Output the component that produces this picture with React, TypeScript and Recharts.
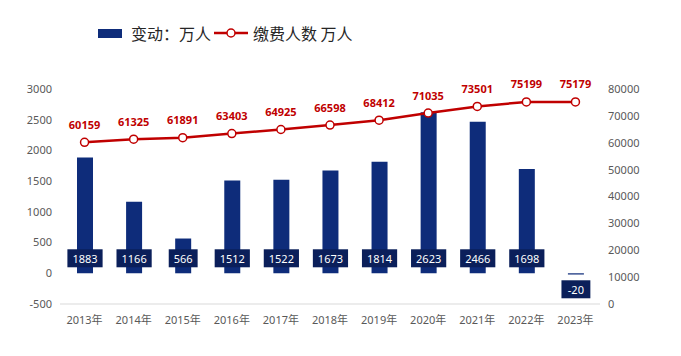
import React from "react";
import {
  ComposedChart,
  Bar,
  Line,
  XAxis,
  YAxis,
  LabelList,
} from "recharts";

const years = ["2013年", "2014年", "2015年", "2016年", "2017年", "2018年", "2019年", "2020年", "2021年", "2022年", "2023年"];
const change = [1883, 1166, 566, 1512, 1522, 1673, 1814, 2623, 2466, 1698, -20];
const payers = [60159, 61325, 61891, 63403, 64925, 66598, 68412, 71035, 73501, 75199, 75179];
const leftTicks = [-500, 0, 500, 1000, 1500, 2000, 2500, 3000];
const rightTicks = [0, 10000, 20000, 30000, 40000, 50000, 60000, 70000, 80000];

const data = years.map((year, i) => ({ year, change: change[i], payers: payers[i] }));

const NAVY = "#0E2C7A";
const BOX = "#0B1F5A";
const RED = "#C00000";
const FONT = "'Noto Sans', 'Noto Sans CJK SC', sans-serif";

function BarLabel(props: any) {
  const { x, y, width, height, value } = props;
  const top = Math.min(y, y + height);
  const bottom = Math.max(y, y + height);
  const zero = value >= 0 ? bottom : top;
  const cy = value >= 0 ? zero - 15 : zero + 16;
  const cx = x + width / 2;
  const text = String(value);
  const w = text.length * 6.3 + 10;
  return (
    <g>
      <rect x={cx - w / 2} y={cy - 9} width={w} height={18} fill={BOX} />
      <text x={cx} y={cy} fill="#fff" fontSize={11} textAnchor="middle" dominantBaseline="central" fontFamily={FONT}>
        {text}
      </text>
    </g>
  );
}

function LineLabel(props: any) {
  const { x, y, value } = props;
  return (
    <text x={x} y={y - 18} fill={RED} fontSize={11} fontWeight="bold" textAnchor="middle" dominantBaseline="central" fontFamily={FONT}>
      {value}
    </text>
  );
}

function LegendBox() {
  const txt: React.CSSProperties = { fontSize: 16, color: "#262626", fontFamily: "'Noto Sans CJK SC', sans-serif", lineHeight: "16px" };
  return (
    <div style={{ position: "absolute", left: 98, top: 25, display: "flex", alignItems: "center" }}>
      <span style={{ width: 24, height: 9, background: NAVY, display: "inline-block", marginRight: 9 }} />
      <span style={txt}>变动：万人</span>
      <svg width={34} height={16} style={{ margin: "0 5px 0 3px" }}>
        <line x1={0} y1={8} x2={34} y2={8} stroke={RED} strokeWidth={2.5} />
        <circle cx={17} cy={8} r={4} fill="#fff" stroke={RED} strokeWidth={1.5} />
      </svg>
      <span style={txt}>缴费人数 万人</span>
    </div>
  );
}

export default function App() {
  return (
    <div style={{ position: "fixed", left: 0, top: 0, width: 681, height: 356, background: "#fff" }}>
      <LegendBox />
      <ComposedChart width={681} height={356} data={data} margin={{ top: 89, right: 0, bottom: 0, left: 0 }}>
        <XAxis
          dataKey="year"
          height={52}
          tick={{ fill: "#595959", fontSize: 11, fontFamily: FONT }}
          tickLine={false}
          axisLine={{ stroke: "#D9D9D9" }}
          interval={0}
          tickMargin={6}
        />
        <YAxis
          yAxisId="left"
          width={60}
          domain={[-500, 3000]}
          ticks={leftTicks}
          tick={{ fill: "#595959", fontSize: 11, fontFamily: FONT }}
          tickLine={false}
          axisLine={false}
        />
        <YAxis
          yAxisId="right"
          orientation="right"
          width={81}
          domain={[0, 80000]}
          ticks={rightTicks}
          tick={{ fill: "#595959", fontSize: 11, fontFamily: FONT, textAnchor: "start" }}
          tickLine={false}
          axisLine={false}
        />
        <Bar yAxisId="left" dataKey="change" fill={NAVY} barSize={16} isAnimationActive={false}>
          <LabelList dataKey="change" content={<BarLabel />} />
        </Bar>
        <Line
          yAxisId="right"
          dataKey="payers"
          type="linear"
          stroke={RED}
          strokeWidth={2.5}
          dot={{ r: 4, fill: "#fff", stroke: RED, strokeWidth: 1.5 }}
          isAnimationActive={false}
        >
          <LabelList dataKey="payers" content={<LineLabel />} />
        </Line>
      </ComposedChart>
    </div>
  );
}
